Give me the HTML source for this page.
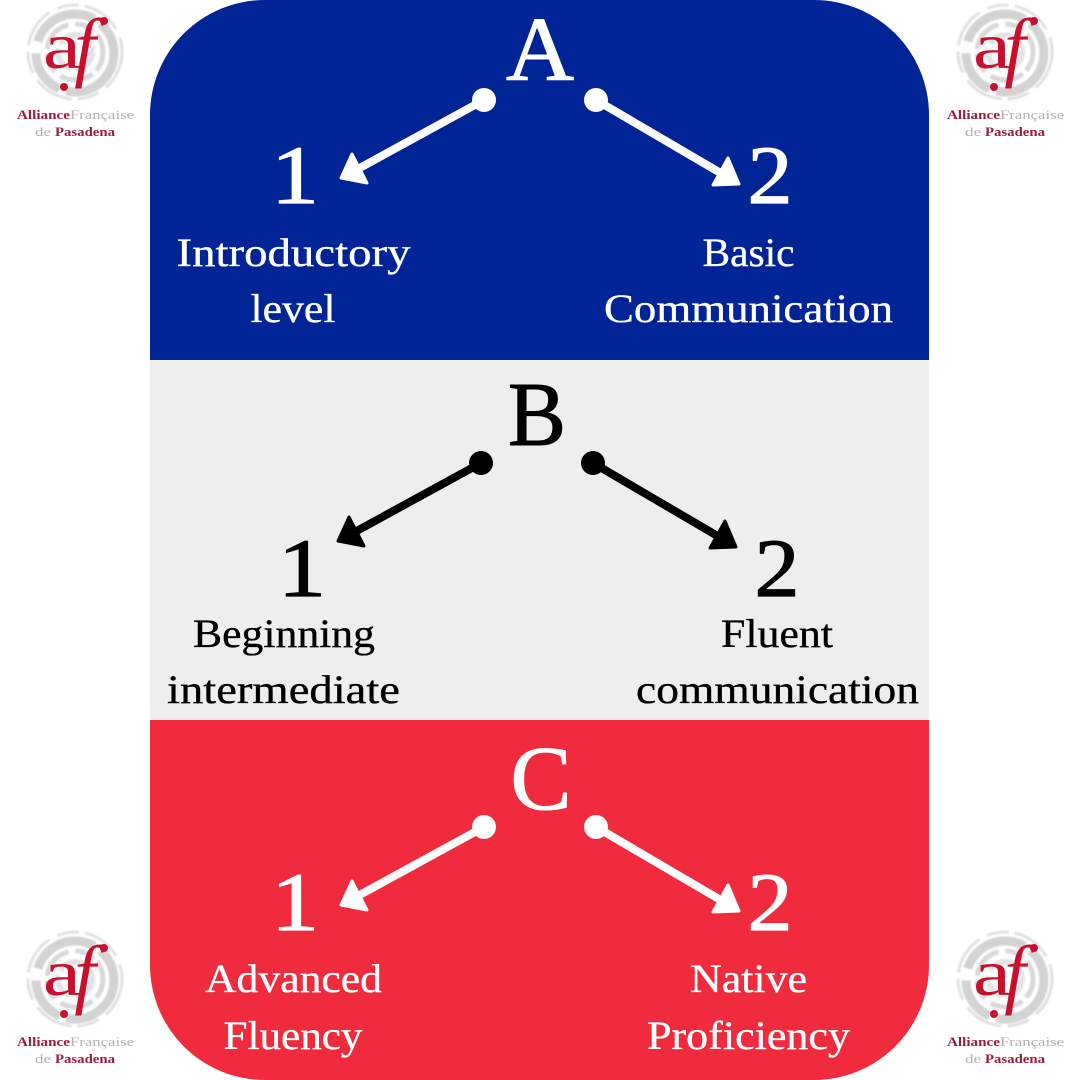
<!DOCTYPE html>
<html><head><meta charset="utf-8"><style>
html,body{margin:0;padding:0;background:#fff}
svg{display:block}
text{font-family:"Liberation Serif",serif}
.l{font-size:40px;text-anchor:middle;stroke:currentColor;stroke-width:.35px}
.n{font-size:83px;text-anchor:middle;stroke:currentColor;stroke-width:1.2px}
.h{font-size:91px;text-anchor:middle;stroke:currentColor;stroke-width:1.1px}
</style></head><body>
<svg width="1080" height="1080" viewBox="0 0 1080 1080" xmlns="http://www.w3.org/2000/svg">
<defs>
<filter id="b" x="-10%" y="-10%" width="120%" height="120%"><feGaussianBlur stdDeviation=".7"/></filter>
<g id="logo">
<g fill="none" stroke="#c4c4c4" filter="url(#b)">
<circle cx="75" cy="52" r="47" stroke-width="3" stroke-dasharray="40 9 22 6" opacity=".5"/>
<circle cx="75" cy="53" r="39" stroke-width="9" stroke-dasharray="70 7 45 12" opacity=".75"/>
<circle cx="75" cy="52" r="28" stroke-width="5" stroke-dasharray="20 5 34 7" opacity=".65"/>
<circle cx="75" cy="52" r="17" stroke-width="6" stroke-dasharray="26 5" opacity=".45"/>
</g>
<text x="62" y="68" style="font-size:66px" fill="#c8102e" text-anchor="middle" textLength="38" lengthAdjust="spacingAndGlyphs">a</text>
<text x="85" y="72" style="font-size:77px;font-style:italic" fill="#c8102e" text-anchor="middle">f</text>
<circle cx="104" cy="21" r="4" fill="#c8102e"/>
<circle cx="64" cy="87" r="4" fill="#c8102e"/>
<text x="17" y="119" style="font-size:13px;font-weight:bold" fill="#9c1c3c" textLength="53" lengthAdjust="spacingAndGlyphs">Alliance</text>
<text x="70" y="119" style="font-size:13px" fill="#b5b0b0" textLength="64" lengthAdjust="spacingAndGlyphs">Française</text>
<text x="35" y="136" style="font-size:13px" fill="#b5b0b0" textLength="16" lengthAdjust="spacingAndGlyphs">de</text>
<text x="55" y="136" style="font-size:13px;font-weight:bold" fill="#9c1c3c" textLength="60" lengthAdjust="spacingAndGlyphs">Pasadena</text>
</g>
<g id="w">
<circle cx="484" cy="100" r="12"/><circle cx="596" cy="100" r="12"/>
<path d="M484 100 L356 170" stroke-width="8" stroke="currentColor"/>
<path d="M596 100 L724 175" stroke-width="8" stroke="currentColor"/>
<path d="M341 178 L352 154 L367 183Z" stroke="currentColor" stroke-width="3" stroke-linejoin="round"/>
<path d="M739 184 L713 185 L728 158Z" stroke="currentColor" stroke-width="3" stroke-linejoin="round"/>
</g>
</defs>
<rect width="1080" height="1080" fill="#fff"/>
<use href="#logo"/>
<use href="#logo" x="930" y="0"/>
<use href="#logo" x="0" y="927"/>
<use href="#logo" x="930" y="927"/>

<path d="M150 360V115A115 115 0 0 1 265 0H814A115 115 0 0 1 929 115V360Z" fill="#002395"/>
<rect x="150" y="360" width="779" height="360" fill="#eeeeee"/>
<path d="M150 720V965A115 115 0 0 0 265 1080H814A115 115 0 0 0 929 965V720Z" fill="#ef2b3d"/>

<g fill="#fff" color="#fff">
<use href="#w"/>
<text class="h" x="540" y="80" textLength="68" lengthAdjust="spacingAndGlyphs">A</text>
<text class="n" x="295" y="203" textLength="48" lengthAdjust="spacingAndGlyphs">1</text>
<text class="n" x="770" y="203" textLength="45" lengthAdjust="spacingAndGlyphs">2</text>
<text class="l" x="293.500" y="266" textLength="234" lengthAdjust="spacingAndGlyphs">Introductory</text>
<text class="l" x="293" y="322" textLength="85" lengthAdjust="spacingAndGlyphs">level</text>
<text class="l" x="748.500" y="266" textLength="92" lengthAdjust="spacingAndGlyphs">Basic</text>
<text class="l" x="748.500" y="322" textLength="289" lengthAdjust="spacingAndGlyphs">Communication</text>
</g>

<g fill="#000" color="#000">
<use href="#w" x="-3" y="363"/>
<text class="h" x="537" y="445" textLength="58" lengthAdjust="spacingAndGlyphs">B</text>
<text class="n" x="302" y="596" textLength="48" lengthAdjust="spacingAndGlyphs">1</text>
<text class="n" x="777" y="596" textLength="45" lengthAdjust="spacingAndGlyphs">2</text>
<text class="l" x="284" y="647" textLength="182" lengthAdjust="spacingAndGlyphs">Beginning</text>
<text class="l" x="283.500" y="703" textLength="233" lengthAdjust="spacingAndGlyphs">intermediate</text>
<text class="l" x="777" y="647" textLength="112" lengthAdjust="spacingAndGlyphs">Fluent</text>
<text class="l" x="777.500" y="703" textLength="283" lengthAdjust="spacingAndGlyphs">communication</text>
</g>

<g fill="#fff" color="#fff">
<use href="#w" y="727"/>
<text class="h" x="541" y="809" textLength="61" lengthAdjust="spacingAndGlyphs">C</text>
<text class="n" x="295" y="930" textLength="48" lengthAdjust="spacingAndGlyphs">1</text>
<text class="n" x="770" y="930" textLength="45" lengthAdjust="spacingAndGlyphs">2</text>
<text class="l" x="293.500" y="992" textLength="177" lengthAdjust="spacingAndGlyphs">Advanced</text>
<text class="l" x="293" y="1049" textLength="139" lengthAdjust="spacingAndGlyphs">Fluency</text>
<text class="l" x="748.500" y="992" textLength="117" lengthAdjust="spacingAndGlyphs">Native</text>
<text class="l" x="748.500" y="1049" textLength="203" lengthAdjust="spacingAndGlyphs">Proficiency</text>
</g>
</svg>
</body></html>
